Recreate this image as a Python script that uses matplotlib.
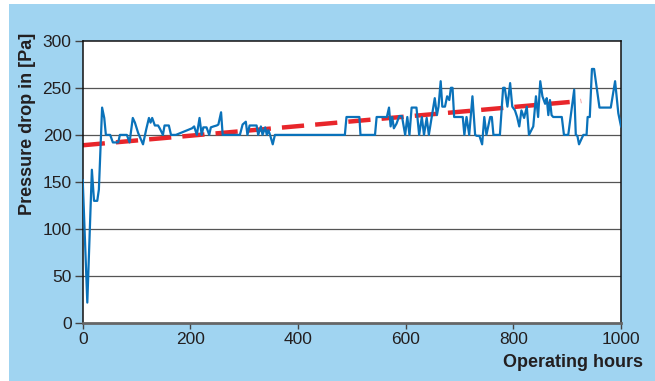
import matplotlib
matplotlib.use("Agg")
import matplotlib.pyplot as plt
from matplotlib.patches import Rectangle

plt.rcParams['font.family'] = ['Liberation Sans', 'DejaVu Sans']

# measured pressure drop
hours = [0, 8.5, 17, 21, 27, 30, 36, 40, 43, 51, 56, 66, 69, 82, 87, 93, 97, 103,
         112, 118, 123, 126, 129, 134, 140, 143, 149, 152, 160, 164, 173, 203, 207,
         212, 217, 221, 224, 230, 235, 238, 243, 249, 252, 257, 260, 292, 297, 303,
         306, 310, 317, 323, 326, 331, 334, 339, 342, 345, 348, 353, 357, 487, 490,
         514, 516, 543, 546, 565, 569, 572, 575, 578, 583, 588, 593, 599, 603, 607,
         611, 620, 625, 630, 634, 639, 643, 648, 654, 658, 661, 665, 668, 673, 677,
         681, 684, 687, 690, 706, 709, 713, 718, 724, 729, 732, 737, 742, 746, 750,
         757, 760, 763, 775, 781, 784, 789, 794, 798, 803, 807, 811, 815, 820, 825,
         829, 837, 842, 846, 850, 854, 859, 862, 865, 868, 871, 874, 890, 894, 902,
         913, 916, 919, 922, 930, 936, 938, 942, 946, 950, 960, 981, 989, 995, 1000]
pressure = [152, 22, 163, 130, 130, 142, 229, 218, 200, 200, 192, 192, 200, 200, 192,
            218, 213, 202, 190, 206, 218, 213, 218, 210, 210, 207, 200, 210, 210, 200,
            200, 207, 209, 200, 218, 200, 208, 208, 200, 208, 209, 210, 211, 224, 200,
            200, 211, 214, 200, 210, 210, 210, 200, 209, 200, 208, 200, 205, 200, 190,
            200, 200, 219, 219, 200, 200, 219, 219, 229, 209, 219, 207, 212, 220, 220,
            200, 219, 200, 229, 229, 200, 219, 200, 218, 200, 218, 239, 221, 230, 257,
            230, 230, 241, 237, 250, 250, 219, 219, 200, 219, 200, 241, 200, 199, 199,
            190, 219, 200, 219, 219, 200, 200, 250, 250, 230, 255, 230, 226, 219, 209,
            226, 218, 230, 200, 209, 241, 219, 257, 241, 233, 239, 221, 237, 221, 219,
            219, 200, 200, 248, 200, 199, 190, 200, 200, 219, 219, 270, 270, 229, 229,
            257, 223, 209]

# linear trend
trend_hours = [0, 926]
trend_pressure = [189, 236]

yticks = [0, 50, 100, 150, 200, 250, 300]
xticks = [0, 200, 400, 600, 800, 1000]

fig = plt.figure(figsize=(6.55, 3.81), dpi=100)
fig.patch.set_facecolor('white')
fig.patches.append(Rectangle((9 / 655, 0), 646 / 655, 377 / 381,
                             transform=fig.transFigure, facecolor='#a0d4f1',
                             edgecolor='none', zorder=-10))

ax = fig.add_axes([0.1263, 0.1514, 0.8218, 0.7418])
ax.set_facecolor('white')

for y in yticks[1:-1]:
    ax.axhline(y, color='#555555', lw=0.9, zorder=1)

ax.plot(trend_hours, trend_pressure, color='#e8262b', lw=3.2,
        dashes=(5, 2.5), zorder=2)
ax.plot(hours, pressure, color='#0a72ba', lw=1.6, zorder=3)

ax.set_xlim(0, 1000)
ax.set_ylim(0, 300)
ax.set_xticks(xticks)
ax.set_yticks(yticks)
ax.tick_params(axis='y', direction='out', length=6, width=1, color='#444444',
               labelsize=12.5, labelcolor='#231f20', pad=2)
ax.tick_params(axis='x', direction='out', length=4.5, width=1, color='#444444',
               labelsize=12.5, labelcolor='#231f20', pad=2)

for side in ['top', 'right', 'left']:
    ax.spines[side].set_color('#111111')
    ax.spines[side].set_linewidth(1.1)
ax.spines['bottom'].set_color('#666666')
ax.spines['bottom'].set_linewidth(2)

fig.text(36 / 655, 1 - 33 / 381, 'Pressure drop in [Pa]', rotation=90,
         ha='right', va='top', fontsize=13, fontweight='bold', color='#231f20')
fig.text(643 / 655, (381 - 366.7) / 381, 'Operating hours', ha='right',
         va='baseline', fontsize=13, fontweight='bold', color='#231f20')

fig.savefig('out.png', dpi=100)
